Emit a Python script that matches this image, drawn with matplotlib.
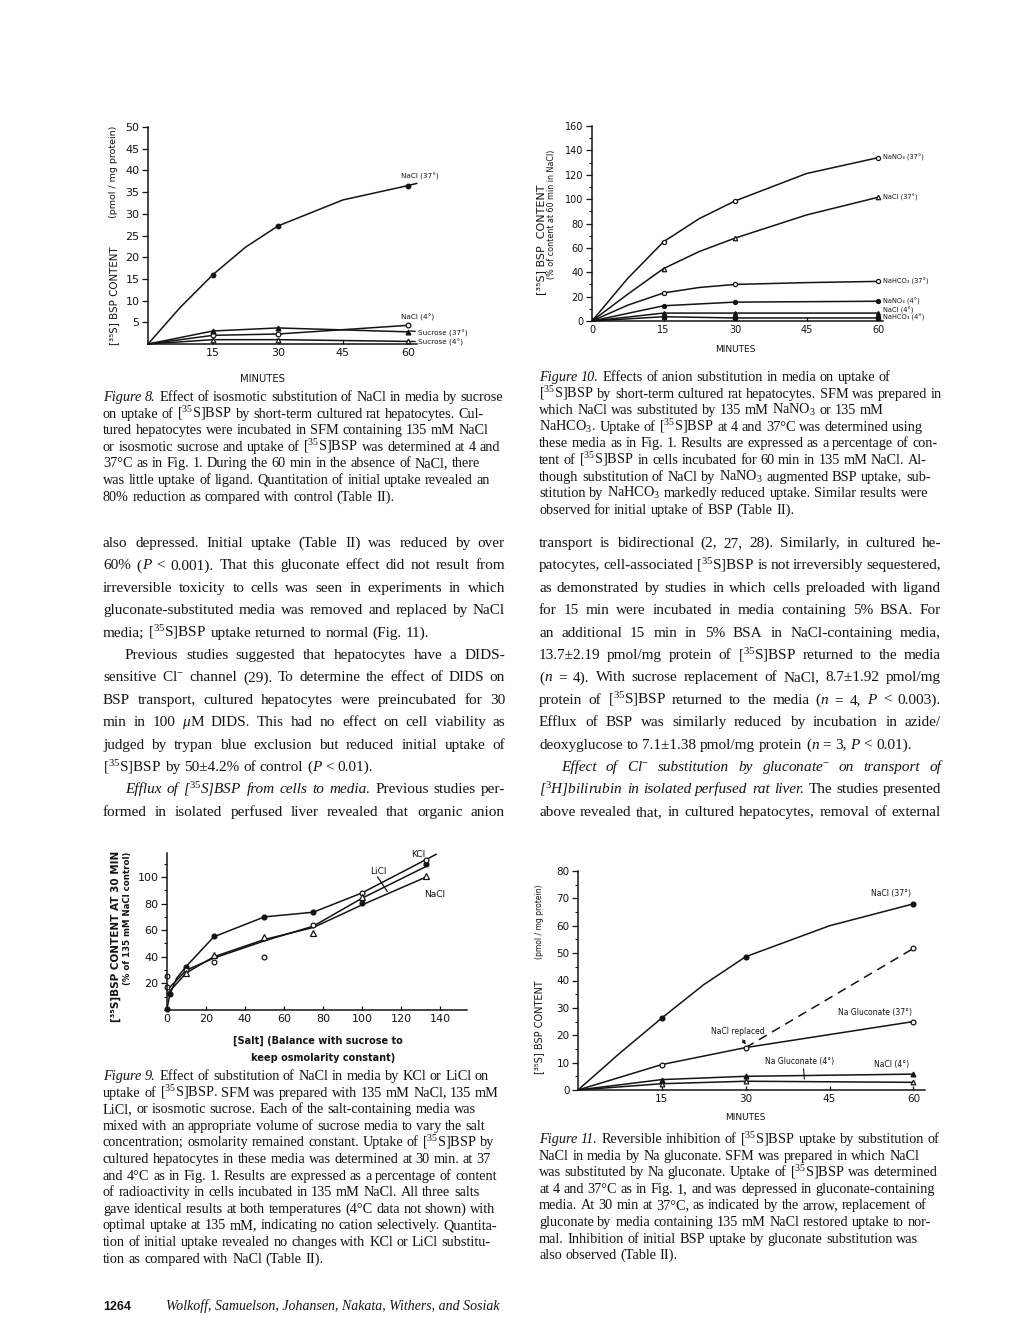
import matplotlib
matplotlib.use("Agg")
import matplotlib.pyplot as plt
from matplotlib.ticker import MultipleLocator

W, H = 1020, 1320
SERIF = "Liberation Serif"
SANS = "DejaVu Sans"
INK = "#141414"

plt.rcParams["font.family"] = SANS
plt.rcParams["mathtext.fontset"] = "custom"
plt.rcParams["mathtext.rm"] = SERIF
plt.rcParams["mathtext.it"] = SERIF + ":italic"
plt.rcParams["mathtext.bf"] = SERIF + ":bold"
plt.rcParams["text.color"] = INK
plt.rcParams["xtick.color"] = INK
plt.rcParams["ytick.color"] = INK

# ---- Figure 8 data (pmol/mg protein vs minutes) ----
f8_t = [0, 15, 30, 60]
f8_nacl37 = [0, 16.0, 27.2, 36.5]
f8_curve_t = [0, 7.5, 15, 22.5, 30, 45, 60, 62]
f8_nacl37_curve = [0, 8.5, 16.0, 22.3, 27.2, 33.2, 36.5, 37.0]
f8_nacl4 = [0, 2.0, 2.3, 4.3]
f8_suc37 = [0, 3.0, 3.7, 2.8]
f8_suc4 = [0, 1.0, 1.0, 0.6]

# ---- Figure 10 data (% of content at 60 min in NaCl) ----
f10_t = [0, 15, 30, 60]
f10_curve_t = [0, 7.5, 15, 22.5, 30, 45, 60]
f10_nano3_37 = [0, 65, 98.5, 134]
f10_nano3_37_curve = [0, 35, 65, 84, 98.5, 121, 134]
f10_nacl37 = [0, 43, 68, 101.5]
f10_nacl37_curve = [0, 22, 43, 57, 68, 87, 101.5]
f10_nahco3_37 = [0, 23, 30, 32.5]
f10_nahco3_37_curve = [0, 13, 23, 27.5, 30, 31.5, 32.5]
f10_nano3_4 = [0, 12.5, 15.5, 16.2]
f10_nacl4 = [0, 6.5, 6.5, 6.5]
f10_nahco3_4 = [0, 3.5, 2.5, 2.5]
f10_labels = ["NaNO₃ (37°)", "NaCl (37°)", "NaHCO₃ (37°)",
              "NaNO₃ (4°)", "NaCl (4°)", "NaHCO₃ (4°)"]
f10_label_y = [134, 101.5, 32.5, 16.2, 8.8, 2.6]

# ---- Figure 9 data (% of 135 mM NaCl control vs [salt]) ----
f9_kcl_x = [0, 1.5, 10, 24, 50, 75, 100, 133]
f9_kcl = [1, 12, 32.5, 55.5, 70, 73.5, 80.5, 110]
f9_kcl_curve_x = [0, 1.5, 5, 10, 24, 50, 75, 100, 138]
f9_kcl_curve = [1, 12, 24, 33, 55, 70, 73.5, 88, 117]
f9_licl_x = [0, 0, 10, 24, 50, 75, 100, 133]
f9_licl = [25.7, 17.5, 30, 36, 40, 63.7, 88, 113]
f9_licl_curve_x = [0, 10, 24, 50, 75, 100, 133]
f9_licl_curve = [15, 30, 39, 52, 63, 84, 108]
f9_nacl_x = [10, 24, 50, 75, 100, 133]
f9_nacl = [27.7, 41, 54.7, 57.5, 85, 100.5]
f9_nacl_curve_x = [0, 10, 24, 50, 75, 100, 133]
f9_nacl_curve = [12, 28, 40, 53, 62, 79, 100]

# ---- Figure 11 data (pmol/mg protein vs minutes) ----
f11_t = [0, 15, 30, 60]
f11_curve_t = [0, 7.5, 15, 22.5, 30, 45, 60]
f11_nacl37 = [0, 26.3, 48.7, 68]
f11_nacl37_curve = [0, 13.5, 26.3, 38.5, 48.7, 60, 68]
f11_gluc37 = [0, 9.3, 15.5, 25]
f11_repl_t = [30, 60]
f11_repl = [15.5, 51.7]
f11_nacl4 = [0, 3.8, 5.0, 5.8]
f11_gluc4 = [0, 2.3, 3.2, 2.8]

# ---- page text ----
CAP8 = [
    "|Figure 8.| Effect of isosmotic substitution of NaCl in media by sucrose",
    "on uptake of [$^{35}$S]BSP by short-term cultured rat hepatocytes. Cul-",
    "tured hepatocytes were incubated in SFM containing 135 mM NaCl",
    "or isosmotic sucrose and uptake of [$^{35}$S]BSP was determined at 4 and",
    "37°C as in Fig. 1. During the 60 min in the absence of NaCl, there",
    "was little uptake of ligand. Quantitation of initial uptake revealed an",
    "80% reduction as compared with control (Table II).",
]
CAP10 = [
    "|Figure 10.| Effects of anion substitution in media on uptake of",
    "[$^{35}$S]BSP by short-term cultured rat hepatocytes. SFM was prepared in",
    "which NaCl was substituted by 135 mM NaNO$_3$ or 135 mM",
    "NaHCO$_3$. Uptake of [$^{35}$S]BSP at 4 and 37°C was determined using",
    "these media as in Fig. 1. Results are expressed as a percentage of con-",
    "tent of [$^{35}$S]BSP in cells incubated for 60 min in 135 mM NaCl. Al-",
    "though substitution of NaCl by NaNO$_3$ augmented BSP uptake, sub-",
    "stitution by NaHCO$_3$ markedly reduced uptake. Similar results were",
    "observed for initial uptake of BSP (Table II).",
]
CAP9 = [
    "|Figure 9.| Effect of substitution of NaCl in media by KCl or LiCl on",
    "uptake of [$^{35}$S]BSP. SFM was prepared with 135 mM NaCl, 135 mM",
    "LiCl, or isosmotic sucrose. Each of the salt-containing media was",
    "mixed with an appropriate volume of sucrose media to vary the salt",
    "concentration; osmolarity remained constant. Uptake of [$^{35}$S]BSP by",
    "cultured hepatocytes in these media was determined at 30 min. at 37",
    "and 4°C as in Fig. 1. Results are expressed as a percentage of content",
    "of radioactivity in cells incubated in 135 mM NaCl. All three salts",
    "gave identical results at both temperatures (4°C data not shown) with",
    "optimal uptake at 135 mM, indicating no cation selectively. Quantita-",
    "tion of initial uptake revealed no changes with KCl or LiCl substitu-",
    "tion as compared with NaCl (Table II).",
]
CAP11 = [
    "|Figure 11.| Reversible inhibition of [$^{35}$S]BSP uptake by substitution of",
    "NaCl in media by Na gluconate. SFM was prepared in which NaCl",
    "was substituted by Na gluconate. Uptake of [$^{35}$S]BSP was determined",
    "at 4 and 37°C as in Fig. 1, and was depressed in gluconate-containing",
    "media. At 30 min at 37°C, as indicated by the arrow, replacement of",
    "gluconate by media containing 135 mM NaCl restored uptake to nor-",
    "mal. Inhibition of initial BSP uptake by gluconate substitution was",
    "also observed (Table II).",
]
# (indented, paragraph ends in this column, lines)
LEFT = [
    (False, True, [
        "also depressed. Initial uptake (Table II) was reduced by over",
        "60% (|P| < 0.001). That this gluconate effect did not result from",
        "irreversible toxicity to cells was seen in experiments in which",
        "gluconate-substituted media was removed and replaced by NaCl",
        "media; [$^{35}$S]BSP uptake returned to normal (Fig. 11).",
    ]),
    (True, True, [
        "Previous studies suggested that hepatocytes have a DIDS-",
        "sensitive Cl$^{-}$ channel (29). To determine the effect of DIDS on",
        "BSP transport, cultured hepatocytes were preincubated for 30",
        "min in 100 |μ|M DIDS. This had no effect on cell viability as",
        "judged by trypan blue exclusion but reduced initial uptake of",
        "[$^{35}$S]BSP by 50±4.2% of control (|P| < 0.01).",
    ]),
    (True, False, [
        "|Efflux of [$^{35}$S]BSP from cells to media.| Previous studies per-",
        "formed in isolated perfused liver revealed that organic anion",
    ]),
]
RIGHT = [
    (False, True, [
        "transport is bidirectional (2, 27, 28). Similarly, in cultured he-",
        "patocytes, cell-associated [$^{35}$S]BSP is not irreversibly sequestered,",
        "as demonstrated by studies in which cells preloaded with ligand",
        "for 15 min were incubated in media containing 5% BSA. For",
        "an additional 15 min in 5% BSA in NaCl-containing media,",
        "13.7±2.19 pmol/mg protein of [$^{35}$S]BSP returned to the media",
        "(|n| = 4). With sucrose replacement of NaCl, 8.7±1.92 pmol/mg",
        "protein of [$^{35}$S]BSP returned to the media (|n| = 4, |P| < 0.003).",
        "Efflux of BSP was similarly reduced by incubation in azide/",
        "deoxyglucose to 7.1±1.38 pmol/mg protein (|n| = 3, |P| < 0.01).",
    ]),
    (True, False, [
        "|Effect of Cl$^{-}$ substitution by gluconate$^{-}$ on transport of|",
        "|[$^{3}$H]bilirubin in isolated perfused rat liver.| The studies presented",
        "above revealed that, in cultured hepatocytes, removal of external",
    ]),
]

fig = plt.figure(figsize=(W / 100, H / 100), dpi=100)
fig.patch.set_facecolor("white")
renderer = fig.canvas.get_renderer()


def ftext(x, y, s, **kw):
    kw.setdefault("color", INK)
    return fig.text(x / W, 1 - y / H, s, **kw)


def parse(line):
    words, cur = [], []
    for i, seg in enumerate(line.split("|")):
        ital = i % 2 == 1
        for j, p in enumerate(seg.split(" ")):
            if j > 0 and cur:
                words.append(cur)
                cur = []
            if p:
                cur.append((p, ital))
    if cur:
        words.append(cur)
    return words


def draw_line(x0, x1, y, line, fs, justify):
    placed, widths = [], []
    for word in parse(line):
        frags, w = [], 0.0
        for txt, ital in word:
            t = fig.text(0, 0, txt, fontsize=fs, family=SERIF, color=INK,
                         style="italic" if ital else "normal", va="baseline")
            frags.append((t, w))
            w += t.get_window_extent(renderer).width
        placed.append(frags)
        widths.append(w)
    space = 0.25 * fs * 100 / 72
    gap = space
    if justify and len(widths) > 1:
        gap = max((x1 - x0 - sum(widths)) / (len(widths) - 1), 0.45 * space)
    x = x0
    for frags, w in zip(placed, widths):
        for t, off in frags:
            t.set_position(((x + off) / W, 1 - y / H))
        x += w + gap


def caption(x0, y0, lines, step=16.6, fs=10.3):
    for k, line in enumerate(lines):
        draw_line(x0, x0 + 400, y0 + k * step, line, fs, False)


def column(x0, x1, y0, paras, step=22.4, fs=11, indent=22):
    k = 0
    for ind, ends, lines in paras:
        for i, line in enumerate(lines):
            last = ends and i == len(lines) - 1
            start = x0 + (indent if ind and i == 0 else 0)
            draw_line(start, x1, y0 + k * step, line, fs, not last)
            k += 1


def add_axes(left, right, top, bottom, xlim, ylim):
    ax = fig.add_axes([left / W, 1 - bottom / H, (right - left) / W, (bottom - top) / H])
    ax.set_xlim(*xlim)
    ax.set_ylim(*ylim)
    ax.patch.set_alpha(0)
    for s in ("top", "right"):
        ax.spines[s].set_visible(False)
    for s in ("left", "bottom"):
        ax.spines[s].set_linewidth(1.1)
        ax.spines[s].set_color(INK)
    return ax


def style_ticks(ax, size):
    ax.tick_params(axis="y", which="major", direction="out", length=4, width=0.9,
                   labelsize=size, pad=2)
    ax.tick_params(axis="y", which="minor", direction="out", length=2.5, width=0.8)
    ax.tick_params(axis="x", which="major", direction="in", length=3, width=0.9,
                   labelsize=size, pad=3)


LW = 1.1
open_kw = dict(mfc="white", mec=INK, mew=0.9, ls="none", clip_on=False)
fill_kw = dict(mfc=INK, mec=INK, ls="none", clip_on=False)

# ================= Figure 8 =================
ax8 = add_axes(148, 148 + 62 * 4.333, 127, 344, (0, 62), (0, 50))
ax8.plot(f8_curve_t, f8_nacl37_curve, color=INK, lw=LW, clip_on=False)
ax8.plot(f8_t[1:], f8_nacl37[1:], "o", ms=3.2, **fill_kw)
for vals, mk, kw in [(f8_nacl4, "o", open_kw), (f8_suc37, "^", fill_kw),
                     (f8_suc4, "^", open_kw)]:
    ax8.plot(f8_t, vals, color=INK, lw=LW, clip_on=False)
    ax8.plot(f8_t[1:], vals[1:], mk, ms=3.4, **kw)
ax8.set_yticks(range(5, 55, 5))
ax8.set_xticks([15, 30, 45, 60])
style_ticks(ax8, 8)
ax8.text(58.3, 38.2, "NaCl (37°)", fontsize=5.2)
ax8.text(58.3, 5.6, "NaCl (4°)", fontsize=5.2)
ax8.annotate("Sucrose (37°)", xy=(60.6, 3.0), xytext=(62.3, 2.4), fontsize=5.2,
             va="center", arrowprops=dict(arrowstyle="-", lw=1.0, color=INK,
                                          shrinkA=0, shrinkB=0))
ax8.annotate("Sucrose (4°)", xy=(60.6, 0.6), xytext=(62.3, 0.4), fontsize=5.2,
             va="center", arrowprops=dict(arrowstyle="-", lw=1.0, color=INK,
                                          shrinkA=0, shrinkB=0))
ax8.annotate("", xy=(62.3, 5.0), xytext=(60.7, 4.5),
             arrowprops=dict(arrowstyle="-", lw=1.0, color=INK, shrinkA=0, shrinkB=0))
ftext(114, 345, "[³⁵S] BSP CONTENT", rotation=90, ha="center", va="bottom", fontsize=7.4)
ftext(114, 126, "(pmol / mg protein)", rotation=90, ha="center", va="top", fontsize=6.8)
ftext(262, 379, "MINUTES", ha="center", va="center", fontsize=7.2)

# ================= Figure 10 =================
ax10 = add_axes(592, 592 + 61 * 4.767, 126, 321, (0, 61), (0, 160))
ax10.plot(f10_curve_t, f10_nano3_37_curve, color=INK, lw=LW, clip_on=False)
ax10.plot(f10_t[1:], f10_nano3_37[1:], "o", ms=3, **open_kw)
ax10.plot(f10_curve_t, f10_nacl37_curve, color=INK, lw=LW, clip_on=False)
ax10.plot(f10_t[1:], f10_nacl37[1:], "^", ms=3.2, **open_kw)
ax10.plot(f10_curve_t, f10_nahco3_37_curve, color=INK, lw=LW, clip_on=False)
ax10.plot(f10_t[1:], f10_nahco3_37[1:], "o", ms=3, **open_kw)
for vals, mk in [(f10_nano3_4, "o"), (f10_nacl4, "^"), (f10_nahco3_4, "s")]:
    ax10.plot(f10_t, vals, color=INK, lw=LW, clip_on=False)
    ax10.plot(f10_t[1:], vals[1:], mk, ms=2.8, **fill_kw)
for lab, yv in zip(f10_labels, f10_label_y):
    ax10.text(61.0, yv, lab, fontsize=4.8, va="center")
ax10.set_yticks(range(0, 161, 20))
ax10.yaxis.set_minor_locator(MultipleLocator(10))
ax10.set_xticks([0, 15, 30, 45, 60])
style_ticks(ax10, 7)
ftext(541, 240, "[³⁵S] BSP  CONTENT", rotation=90, ha="center", va="center", fontsize=8)
ftext(552, 214, "(% of content at 60 min in NaCl)", rotation=90, ha="center",
      va="center", fontsize=5.8)
ftext(735, 349, "MINUTES", ha="center", va="center", fontsize=6.5)

# ================= Figure 9 =================
ax9 = add_axes(167, 167 + 154 * 1.95, 853, 1010, (0, 154), (0, 118))
ax9.plot(f9_kcl_curve_x, f9_kcl_curve, color=INK, lw=LW, clip_on=False)
ax9.plot(f9_licl_curve_x, f9_licl_curve, color=INK, lw=LW, clip_on=False)
ax9.plot(f9_nacl_curve_x, f9_nacl_curve, color=INK, lw=LW, clip_on=False)
ax9.plot(f9_kcl_x, f9_kcl, "o", ms=3.4, **fill_kw)
ax9.plot(f9_licl_x, f9_licl, "o", ms=3.4, **open_kw)
ax9.plot(f9_nacl_x, f9_nacl, "^", ms=4, **open_kw)
ax9.annotate("", xy=(142, 119), xytext=(137, 116),
             arrowprops=dict(arrowstyle="-|>", lw=1.0, color=INK, mutation_scale=7,
                             shrinkA=0, shrinkB=0))
ax9.text(125, 117, "KCl", fontsize=6.5, va="center")
ax9.text(104, 104, "LiCl", fontsize=6.5, va="center")
ax9.annotate("", xy=(113, 89), xytext=(108, 100),
             arrowprops=dict(arrowstyle="-", lw=0.9, color=INK, shrinkA=0, shrinkB=0))
ax9.text(132, 87, "NaCl", fontsize=6.5, va="center")
ax9.set_yticks([20, 40, 60, 80, 100])
ax9.yaxis.set_minor_locator(MultipleLocator(10))
ax9.set_xticks(range(0, 141, 20))
style_ticks(ax9, 8)
ftext(116, 936, "[³⁵S]BSP CONTENT AT 30 MIN", rotation=90, ha="center", va="center",
      fontsize=7.5, fontweight="bold")
ftext(128, 918, "(% of 135 mM NaCl control)", rotation=90, ha="center", va="center",
      fontsize=6.2, fontweight="bold")
ftext(318, 1041, "[Salt] (Balance with sucrose to", ha="center", va="center",
      fontsize=7, fontweight="bold")
ftext(323, 1058, "keep osmolarity constant)", ha="center", va="center",
      fontsize=7, fontweight="bold")

# ================= Figure 11 =================
ax11 = add_axes(578, 578 + 62 * 5.59, 871, 1090, (0, 62), (0, 80))
ax11.plot(f11_curve_t, f11_nacl37_curve, color=INK, lw=LW, clip_on=False)
ax11.plot(f11_t[1:], f11_nacl37[1:], "o", ms=3.4, **fill_kw)
ax11.plot(f11_t, f11_gluc37, color=INK, lw=LW, clip_on=False)
ax11.plot(f11_repl_t, f11_repl, color=INK, lw=LW, ls=(0, (6, 4)), clip_on=False)
ax11.plot(f11_t[1:], f11_gluc37[1:], "o", ms=3.4, **open_kw)
ax11.plot(f11_repl_t[1:], f11_repl[1:], "o", ms=3.4, **open_kw)
ax11.plot(f11_t, f11_nacl4, color=INK, lw=LW, clip_on=False)
ax11.plot(f11_t[1:], f11_nacl4[1:], "^", ms=3.4, **fill_kw)
ax11.plot(f11_t, f11_gluc4, color=INK, lw=LW, clip_on=False)
ax11.plot(f11_t[1:], f11_gluc4[1:], "^", ms=3.4, **open_kw)
ax11.text(52.5, 71, "NaCl (37°)", fontsize=5.5)
ax11.text(46.5, 27.5, "Na Gluconate (37°)", fontsize=5.5)
ax11.annotate("NaCl replaced", xy=(30, 16.6), xytext=(28.5, 20.5), fontsize=5.5,
              ha="center", arrowprops=dict(arrowstyle="-|>", lw=0.8, color=INK,
                                           mutation_scale=5, shrinkA=1, shrinkB=0))
ax11.annotate("Na Gluconate (4°)", xy=(40.5, 4.0), xytext=(33.5, 9.5), fontsize=5.5,
              arrowprops=dict(arrowstyle="-", lw=0.8, color=INK,
                              shrinkA=0, shrinkB=0, relpos=(0.55, 0)))
ax11.text(53, 8.3, "NaCl (4°)", fontsize=5.5)
ax11.set_yticks(range(0, 81, 10))
ax11.yaxis.set_minor_locator(MultipleLocator(5))
ax11.set_xticks([15, 30, 45, 60])
style_ticks(ax11, 7.5)
ftext(539, 1027, "[³⁵S] BSP CONTENT", rotation=90, ha="center", va="center", fontsize=7)
ftext(539, 922, "(pmol / mg protein)", rotation=90, ha="center", va="center", fontsize=5.5)
ftext(745, 1118, "MINUTES", ha="center", va="center", fontsize=6.5)

# ================= page text =================
caption(103, 401, CAP8)
caption(539, 381, CAP10)
column(103, 505, 547, LEFT)
column(539, 941, 547, RIGHT)
caption(103, 1080, CAP9)
caption(539, 1143, CAP11)

ftext(103, 1310, "1264", fontsize=9, fontweight="bold", family="Liberation Sans",
      va="baseline")
ftext(166, 1310, "Wolkoff, Samuelson, Johansen, Nakata, Withers, and Sosiak",
      fontsize=10, style="italic", family=SERIF, va="baseline")

fig.savefig("out.png", dpi=100, facecolor="white")
